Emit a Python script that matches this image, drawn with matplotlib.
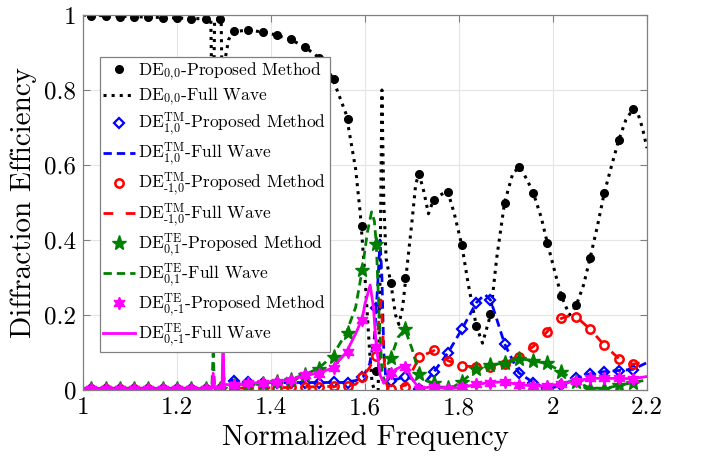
import numpy as np
import matplotlib
matplotlib.use("Agg")
import matplotlib.pyplot as plt
from matplotlib.ticker import FixedLocator, FixedFormatter

plt.rcParams['font.family'] = ['cmr10', 'DejaVu Serif']
plt.rcParams['mathtext.fontset'] = 'cm'
plt.rcParams['axes.formatter.use_mathtext'] = True

# marker frequencies (Proposed Method samples)
xm = [1.018, 1.048, 1.079, 1.109, 1.139, 1.170, 1.200, 1.230, 1.261, 1.291,
      1.321, 1.352, 1.382, 1.412, 1.443, 1.473, 1.503, 1.533, 1.564, 1.594,
      1.624, 1.655, 1.685, 1.715, 1.746, 1.776, 1.806, 1.837, 1.867, 1.897,
      1.927, 1.958, 1.988, 2.018, 2.049, 2.079, 2.109, 2.140, 2.170]

de00_pm = [0.998, 0.997, 0.996, 0.995, 0.994, 0.993, 0.992, 0.990, 0.989, 0.989,
           0.958, 0.960, 0.954, 0.947, 0.935, 0.916, 0.886, 0.829, 0.723, 0.438,
           0.050, 0.285, 0.298, 0.576, 0.508, 0.529, 0.386, 0.170, 0.203, 0.500,
           0.594, 0.526, 0.392, 0.250, 0.226, 0.352, 0.525, 0.667, 0.749]
tm10_pm = [0.003, 0.003, 0.003, 0.003, 0.003, 0.003, 0.003, 0.003, 0.003, 0.003,
           0.025, 0.022, 0.020, 0.020, 0.020, 0.020, 0.020, 0.022, 0.018, 0.035,
           0.220, 0.025, 0.035, 0.004, 0.049, 0.100, 0.162, 0.233, 0.240, 0.123,
           0.046, 0.020, 0.002, 0.013, 0.031, 0.043, 0.049, 0.052, 0.053]
tmm10_pm = [0.002, 0.002, 0.002, 0.002, 0.002, 0.002, 0.002, 0.002, 0.002, 0.002,
            0.005, 0.005, 0.005, 0.006, 0.007, 0.009, 0.009, 0.010, 0.010, 0.035,
            0.090, 0.004, 0.009, 0.089, 0.107, 0.078, 0.064, 0.062, 0.062, 0.070,
            0.089, 0.116, 0.156, 0.191, 0.196, 0.162, 0.120, 0.084, 0.069]
te01_pm = [0.002, 0.002, 0.002, 0.002, 0.002, 0.002, 0.002, 0.002, 0.002, 0.003,
           0.010, 0.012, 0.016, 0.022, 0.028, 0.040, 0.057, 0.089, 0.152, 0.320,
           0.390, 0.085, 0.162, 0.044, 0.018, 0.005, 0.022, 0.055, 0.067, 0.071,
           0.084, 0.078, 0.071, 0.049, 0.022, 0.004, 0.004, 0.013, 0.020]
te0m1_pm = [0.003, 0.003, 0.003, 0.003, 0.003, 0.003, 0.003, 0.003, 0.003, 0.004,
            0.013, 0.018, 0.020, 0.022, 0.027, 0.040, 0.044, 0.058, 0.102, 0.187,
            0.116, 0.045, 0.062, 0.004, 0.009, 0.002, 0.007, 0.015, 0.020, 0.022,
            0.013, 0.011, 0.011, 0.016, 0.024, 0.031, 0.031, 0.031, 0.029]

# Full-wave curves
x00 = [1.00, 1.05, 1.10, 1.15, 1.20, 1.25, 1.272, 1.276, 1.280, 1.290, 1.294, 1.298,
       1.302, 1.31, 1.32, 1.35, 1.38, 1.41, 1.44, 1.47, 1.50, 1.53, 1.56, 1.58, 1.59,
       1.60, 1.61, 1.615, 1.62, 1.628, 1.632, 1.636, 1.640, 1.645, 1.655, 1.665, 1.672,
       1.68, 1.687, 1.70, 1.708, 1.715, 1.725, 1.735, 1.745, 1.76, 1.776, 1.79, 1.806,
       1.82, 1.837, 1.85, 1.867, 1.88, 1.897, 1.915, 1.93, 1.945, 1.958, 1.975, 1.988,
       2.005, 2.018, 2.035, 2.049, 2.065, 2.079, 2.095, 2.109, 2.125, 2.14, 2.155, 2.17,
       2.18, 2.19, 2.20]
y00 = [1.000, 0.998, 0.996, 0.994, 0.992, 0.990, 0.989, 0.600, 0.989, 0.989, 0.985, 0.600,
       0.880, 0.935, 0.955, 0.960, 0.955, 0.947, 0.935, 0.917, 0.888, 0.835, 0.735, 0.590, 0.470,
       0.300, 0.100, 0.020, 0.000, 0.000, 0.300, 0.800, 0.500, 0.350, 0.285, 0.200, 0.175,
       0.220, 0.300, 0.450, 0.550, 0.576, 0.530, 0.470, 0.505, 0.520, 0.530, 0.470, 0.386,
       0.280, 0.170, 0.125, 0.200, 0.350, 0.500, 0.580, 0.594, 0.560, 0.526, 0.460, 0.392,
       0.310, 0.250, 0.200, 0.224, 0.280, 0.352, 0.440, 0.525, 0.600, 0.667, 0.720, 0.749,
       0.740, 0.700, 0.645]

x10 = [1.00, 1.29, 1.297, 1.299, 1.30, 1.32, 1.35, 1.40, 1.45, 1.50, 1.55, 1.58, 1.596,
       1.61, 1.62, 1.627, 1.632, 1.636, 1.64, 1.645, 1.65, 1.655, 1.687, 1.70, 1.717, 1.747,
       1.777, 1.806, 1.837, 1.855, 1.867, 1.88, 1.897, 1.927, 1.958, 1.988, 2.018, 2.049,
       2.079, 2.109, 2.14, 2.17, 2.20]
y10 = [0.003, 0.003, 0.003, 0.035, 0.030, 0.025, 0.022, 0.020, 0.020, 0.020, 0.020, 0.025, 0.035,
       0.070, 0.140, 0.280, 0.400, 0.300, 0.100, 0.020, 0.030, 0.025, 0.035, 0.030, 0.004, 0.049,
       0.100, 0.162, 0.233, 0.255, 0.240, 0.190, 0.123, 0.046, 0.020, 0.002, 0.013, 0.031,
       0.043, 0.049, 0.052, 0.055, 0.073]

xm10 = [1.00, 1.29, 1.30, 1.35, 1.45, 1.50, 1.55, 1.58, 1.594, 1.61, 1.624, 1.63, 1.634,
        1.638, 1.643, 1.65, 1.655, 1.687, 1.70, 1.717, 1.747, 1.777, 1.806, 1.837, 1.867,
        1.897, 1.927, 1.958, 1.988, 2.0, 2.018, 2.035, 2.049, 2.079, 2.109, 2.14, 2.17, 2.20]
ym10 = [0.002, 0.002, 0.005, 0.005, 0.007, 0.009, 0.010, 0.015, 0.035, 0.060, 0.100, 0.200, 0.240,
        0.150, 0.030, 0.000, 0.004, 0.013, 0.050, 0.089, 0.105, 0.078, 0.064, 0.062, 0.065,
        0.072, 0.089, 0.116, 0.156, 0.175, 0.191, 0.198, 0.196, 0.162, 0.120, 0.084, 0.069, 0.076]

x01 = [1.00, 1.27, 1.274, 1.277, 1.28, 1.30, 1.32, 1.35, 1.38, 1.41, 1.44, 1.47, 1.50, 1.53,
       1.56, 1.58, 1.594, 1.605, 1.614, 1.62, 1.624, 1.63, 1.636, 1.642, 1.648, 1.655, 1.67,
       1.685, 1.70, 1.715, 1.73, 1.746, 1.76, 1.776, 1.79, 1.806, 1.837, 1.867, 1.897, 1.927,
       1.958, 1.988, 2.018, 2.049, 2.079, 2.109, 2.14, 2.17, 2.20]
y01 = [0.002, 0.003, 0.005, 0.098, 0.006, 0.008, 0.010, 0.012, 0.016, 0.022, 0.028, 0.040, 0.057, 0.089,
       0.152, 0.220, 0.320, 0.420, 0.475, 0.450, 0.390, 0.200, 0.050, 0.020, 0.030, 0.085, 0.140,
       0.162, 0.110, 0.044, 0.025, 0.018, 0.008, 0.005, 0.010, 0.022, 0.055, 0.067, 0.072, 0.084,
       0.078, 0.070, 0.049, 0.022, 0.005, 0.004, 0.012, 0.020, 0.027]

x0m1 = [1.00, 1.27, 1.274, 1.277, 1.28, 1.29, 1.296, 1.298, 1.300, 1.32, 1.35, 1.38, 1.41, 1.44,
        1.47, 1.50, 1.53, 1.56, 1.58, 1.594, 1.60, 1.611, 1.618, 1.624, 1.632, 1.64, 1.65, 1.665,
        1.678, 1.69, 1.70, 1.715, 1.746, 1.776, 1.806, 1.837, 1.867, 1.897, 1.927, 1.958, 1.988,
        2.018, 2.049, 2.079, 2.109, 2.14, 2.17, 2.20]
y0m1 = [0.003, 0.003, 0.005, 0.045, 0.005, 0.004, 0.010, 0.160, 0.015, 0.013, 0.018, 0.020, 0.022, 0.027,
        0.038, 0.045, 0.058, 0.100, 0.150, 0.190, 0.230, 0.280, 0.220, 0.116, 0.040, 0.018, 0.035, 0.055,
        0.063, 0.055, 0.030, 0.004, 0.009, 0.003, 0.007, 0.015, 0.020, 0.022, 0.014, 0.011, 0.011,
        0.016, 0.024, 0.031, 0.031, 0.031, 0.030, 0.036]

labels = [r'DE$_{0{,}0}$-Proposed Method', r'DE$_{0{,}0}$-Full Wave',
          r'DE$^{\rm TM}_{1{,}0}$-Proposed Method', r'DE$^{\rm TM}_{1{,}0}$-Full Wave',
          r'DE$^{\rm TM}_{\text{-}1{,}0}$-Proposed Method', r'DE$^{\rm TM}_{\text{-}1{,}0}$-Full Wave',
          r'DE$^{\rm TE}_{0{,}1}$-Proposed Method', r'DE$^{\rm TE}_{0{,}1}$-Full Wave',
          r'DE$^{\rm TE}_{0{,}\text{-}1}$-Proposed Method', r'DE$^{\rm TE}_{0{,}\text{-}1}$-Full Wave']

fig = plt.figure(figsize=(7.04, 4.61), dpi=100)
ax = fig.add_axes([83/704, 1-390/461, 564/704, 375/461])

hexagram = (6, 1, 0)
ax.plot(xm, de00_pm, ls='none', marker='o', ms=5.5, color='k', label=labels[0])
ax.plot(x00, y00, ls=':', lw=2.2, color='k', label=labels[1])
ax.plot(xm, tm10_pm, ls='none', marker='D', ms=5, mfc='none', mec='#0000ff', mew=1.6, label=labels[2])
ax.plot(x10, y10, ls='--', lw=2.0, color='#0000ff', dashes=(3, 1.8), label=labels[3])
ax.plot(xm, tmm10_pm, ls='none', marker='o', ms=6, mfc='none', mec='#ff0000', mew=1.8, label=labels[4])
ax.plot(xm10, ym10, lw=2.0, color='#ff0000', dashes=(3.5, 4.5), label=labels[5])
ax.plot(xm, te01_pm, ls='none', marker='*', ms=11, color='#008000', label=labels[6])
ax.plot(x01, y01, ls='--', lw=2.0, color='#008000', dashes=(3, 1.8), label=labels[7])
ax.plot(xm, te0m1_pm, ls='none', marker=hexagram, ms=9, color='#ff00ff', label=labels[8])
ax.plot(x0m1, y0m1, ls='-', lw=2.0, color='#ff00ff', label=labels[9])

ax.set_xlim(1, 2.2)
ax.set_ylim(0, 1)
xt = [1, 1.2, 1.4, 1.6, 1.8, 2, 2.2]
yt = [0, 0.2, 0.4, 0.6, 0.8, 1]
ax.xaxis.set_major_locator(FixedLocator(xt))
ax.xaxis.set_major_formatter(FixedFormatter(['1', '1.2', '1.4', '1.6', '1.8', '2', '2.2']))
ax.yaxis.set_major_locator(FixedLocator(yt))
ax.yaxis.set_major_formatter(FixedFormatter(['0', '0.2', '0.4', '0.6', '0.8', '1']))
ax.tick_params(direction='in', length=5, width=0.8, color='#808080', labelsize=18,
               top=True, right=True, pad=5)
ax.grid(True, color='#e5e5e5', lw=0.8)
ax.set_axisbelow(True)
for s in ax.spines.values():
    s.set_color('#808080')
    s.set_linewidth(0.9)

ax.set_xlabel('Normalized Frequency', fontsize=21, labelpad=4)
ax.set_ylabel('Diffraction Efficiency', fontsize=21, labelpad=5)

leg = ax.legend(loc='upper left', bbox_to_anchor=(0.030, 0.888), borderaxespad=0,
                fontsize=12.5, frameon=True, fancybox=False, framealpha=1,
                edgecolor='#808080', handlelength=1.8, handletextpad=0.2,
                labelspacing=0.17, borderpad=0.2)
leg.get_frame().set_linewidth(0.9)

fig.savefig('out.png', dpi=100)
